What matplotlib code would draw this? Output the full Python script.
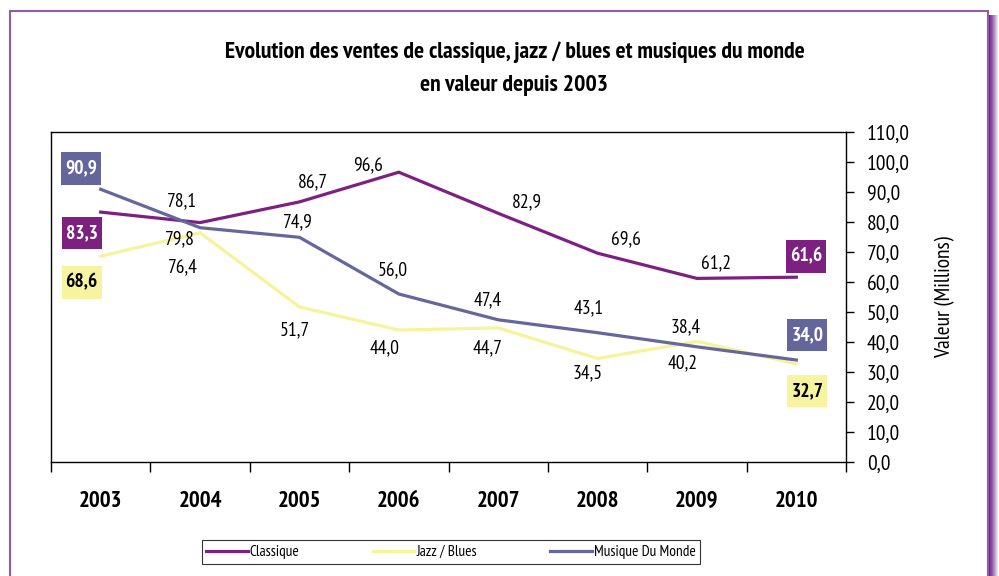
import numpy as np
import matplotlib
matplotlib.use("Agg")
import matplotlib.pyplot as plt
from matplotlib import font_manager
from matplotlib.patches import Rectangle
from matplotlib.path import Path
from matplotlib.ticker import FuncFormatter

# pick a condensed sans close to the original's narrow face
candidates = ['PT Sans Narrow', 'Fira Sans Condensed', 'Encode Sans Condensed', 'Archivo Narrow',
              'Asap Condensed', 'Roboto Condensed', 'IBM Plex Sans Condensed', 'Open Sans Condensed',
              'Ubuntu Condensed', 'Barlow Semi Condensed', 'Pragati Narrow']
weights = {}
for f in font_manager.fontManager.ttflist:
    weights.setdefault(f.name, set()).add(f.weight)
font = 'DejaVu Sans'
for c in candidates:
    if c in weights and 700 in weights[c] and 400 in weights[c]:
        font = c
        break
plt.rcParams['font.family'] = [font, 'DejaVu Sans']

years = ['2003', '2004', '2005', '2006', '2007', '2008', '2009', '2010']
classique = [83.3, 79.8, 86.7, 96.6, 82.9, 69.6, 61.2, 61.6]
jazz = [68.6, 76.4, 51.7, 44.0, 44.7, 34.5, 40.2, 32.7]
monde = [90.9, 78.1, 74.9, 56.0, 47.4, 43.1, 38.4, 34.0]

# label offsets in pixels (dx, dy) from each point
off_classique = [(-19, -21), (-20, -17), (13, 20), (-31, 7), (29, 11), (28, 14), (19, 15), (10, 21)]
off_jazz = [(-19, -26), (-17, -34), (-5, -23), (-14, -18), (-11, -20), (-10, -15), (-14, -22), (11, -27)]
off_monde = [(-20, 21), (-18, 26), (-2, 15), (-6, 24), (-10, 20), (-9, 24), (-11, 20), (11, 25)]

c_classique = '#7D2180'
c_jazz = '#F6F39B'
c_monde = '#65679C'


def tallbox(x0, y0, width, height, mutation_size):
    # box with a little side padding and more top/bottom padding
    px = 0.2 * mutation_size
    py = 0.38 * mutation_size
    x0, y0 = x0 - px, y0 - py
    x1, y1 = x0 + width + 2 * px, y0 + height + 2 * py
    return Path([(x0, y0), (x1, y0), (x1, y1), (x0, y1), (x0, y0)], closed=True)


fig = plt.figure(figsize=(9.99, 5.76), dpi=100)
ax = fig.add_axes([51 / 999, 1 - 462 / 576, (846 - 51) / 999, (462 - 132) / 576])

x = np.arange(len(years))
series = [
    ('Classique', classique, c_classique, off_classique, c_classique, 'white'),
    ('Jazz / Blues', jazz, c_jazz, off_jazz, '#F6F4A0', 'black'),
    ('Musique Du Monde', monde, c_monde, off_monde, '#63659B', 'white'),
]
for name, vals, col, offs, boxcol, boxtxt in series:
    ax.plot(x, vals, color=col, lw=2.3, label=name, solid_joinstyle='miter')
for name, vals, col, offs, boxcol, boxtxt in series:
    for i, v in enumerate(vals):
        txt = '{:.1f}'.format(v).replace('.', ',')
        if i == 0 or i == len(vals) - 1:
            ax.annotate(txt, xy=(x[i], v), xytext=offs[i], textcoords='offset pixels',
                        ha='center', va='center', fontsize=14, fontweight='bold',
                        color=boxtxt,
                        bbox=dict(boxstyle=tallbox, fc=boxcol, ec='none'))
        else:
            ax.annotate(txt, xy=(x[i], v), xytext=offs[i], textcoords='offset pixels',
                        ha='center', va='center', fontsize=14, color='black')

ax.set_xlim(-0.5, len(years) - 0.5)
ax.set_ylim(0, 110)
ax.set_xticks(np.arange(-0.5, len(years), 1.0))
ax.set_xticklabels([])
ax.set_xticks(x, minor=True)
ax.set_xticklabels(years, minor=True, fontsize=16.5, fontweight='bold')
ax.tick_params(axis='x', which='major', direction='out', length=7, width=1)
ax.tick_params(axis='x', which='minor', length=0, pad=21)

ax.yaxis.tick_right()
ax.yaxis.set_label_position('right')
ax.set_yticks(np.arange(0, 111, 10))
ax.yaxis.set_major_formatter(FuncFormatter(lambda v, p: '{:.1f}'.format(v).replace('.', ',')))
ax.tick_params(axis='y', direction='out', length=6, width=1, labelsize=15.5, pad=9)
ax.set_ylabel('Valeur (Millions)', fontsize=15.5, labelpad=18)
for s in ax.spines.values():
    s.set_linewidth(1)
    s.set_color('black')

fig.text(0.515, 1 - 52 / 576, 'Evolution des ventes de classique, jazz / blues et musiques du monde',
         ha='center', va='center', fontsize=17, fontweight='bold')
fig.text(0.515, 1 - 86 / 576, 'en valeur depuis 2003',
         ha='center', va='center', fontsize=17, fontweight='bold')

leg = fig.legend(loc='center', bbox_to_anchor=(451 / 999, 1 - 552 / 576), ncol=3,
                 fontsize=11, frameon=True, fancybox=False, edgecolor='black',
                 handlelength=2.7, handletextpad=0.15, columnspacing=4.8,
                 borderpad=0.3, borderaxespad=0)
leg.get_frame().set_linewidth(0.8)

# outer frame with shadow on the right
fig.patches.append(Rectangle((10 / 999, -0.01), 978 / 999, 1 - 11 / 576 + 0.01,
                             transform=fig.transFigure, fill=False,
                             ec='#8E5BAE', lw=1.5, zorder=5))
shade = ['#6E2B86', '#7A3B91', '#86509C', '#9464A8', '#A47AB6', '#B592C5', '#C8AED5', '#DCCBE4', '#EEE5F2']
for k, c in enumerate(shade):
    fig.patches.append(Rectangle(((989 + k) / 999, -0.01), 1 / 999, 1 - 15 / 576 + 0.01,
                                 transform=fig.transFigure, fc=c, ec='none', zorder=4))

fig.savefig('out.png', dpi=100)
